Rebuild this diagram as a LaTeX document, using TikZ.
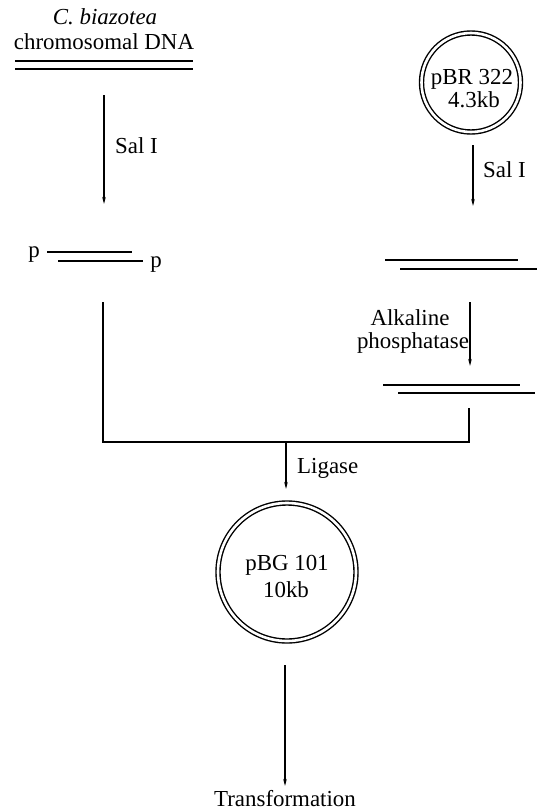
\documentclass[tikz,border=0pt]{standalone}
\usepackage{fontspec}
\setmainfont{Liberation Serif}
\usetikzlibrary{arrows.meta}
\begin{document}
\begin{tikzpicture}[x=1bp,y=-1bp,
  lbl/.style={font=\fontsize{23}{24}\selectfont, inner sep=0pt, anchor=base},
  strand/.style={line width=1.3bp},
  joinline/.style={line width=1.2bp},
  flow/.style={line width=1.2bp, -{Stealth[length=7bp,width=3.5bp]}},
  ring/.style={circle, draw, double, line width=1.4bp, double distance=2.6bp, inner sep=0pt}]
\useasboundingbox (0,0) rectangle (543,811);

% chromosomal DNA, top left
\node[lbl, font=\fontsize{23}{24}\selectfont\itshape] (cbiaz) at (105,25) {C. biazotea};
\node[lbl] (chrom) at (104,50) {chromosomal DNA};
\draw[strand] (15,61) coordinate (c1a) -- (193,61) coordinate (c1b);
\draw[strand] (15,69) coordinate (c2a) -- (193,69) coordinate (c2b);

% digestion of chromosomal DNA
\coordinate (salLtop) at (104,95);
\coordinate (salLbot) at (104,204);
\draw[flow] (salLtop) -- (salLbot);
\node[lbl, anchor=base west] (salL) at (115,153) {Sal I};

% chromosomal fragment with 5' phosphates
\node[lbl] (pL) at (34,257) {p};
\node[lbl] (pR) at (156,267) {p};
\draw[strand] (47,252) coordinate (f1a) -- (132,252) coordinate (f1b);
\draw[strand] (58,261) coordinate (f2a) -- (143,261) coordinate (f2b);

% plasmid pBR 322
\node[ring, minimum size=99bp] (pbr) at (471,82.5) {};
\node[lbl] (pbrA) at (472,84) {pBR 322};
\node[lbl] (pbrB) at (474,107) {4.3kb};

\coordinate (salRtop) at (473,145);
\coordinate (salRbot) at (473,206);
\draw[flow] (salRtop) -- (salRbot);
\node[lbl, anchor=base west] (salR) at (483,177) {Sal I};

% linearised vector
\draw[strand] (385,260) coordinate (v1a) -- (518,260) coordinate (v1b);
\draw[strand] (400,269) coordinate (v2a) -- (537,269) coordinate (v2b);

\coordinate (aptop) at (470,302);
\coordinate (apbot) at (470,366);
\draw[flow] (aptop) -- (apbot);
\node[lbl] (alk) at (410,325) {Alkaline};
\node[lbl] (phos) at (413,348) {phosphatase};

% dephosphorylated vector
\draw[strand] (383,385) coordinate (d1a) -- (520,385) coordinate (d1b);
\draw[strand] (398,393) coordinate (d2a) -- (535,393) coordinate (d2b);

% joining the two preparations
\coordinate (jL) at (103,302);
\coordinate (jR) at (469,408);
\coordinate (jLc) at (103,442);
\coordinate (jRc) at (469,442);
\coordinate (jM) at (286,442);
\draw[joinline] (jL) -- (jLc) -- (jRc) -- (jR);

\coordinate (ligbot) at (286,489);
\draw[flow] (jM) -- (ligbot);
\node[lbl, anchor=base west] (lig) at (297,473) {Ligase};

% recombinant plasmid pBG 101
\node[ring, minimum size=138bp] (pbg) at (287,572) {};
\node[lbl] (pbgA) at (287,570) {pBG 101};
\node[lbl] (pbgB) at (286,597) {10kb};

\coordinate (trtop) at (285,665);
\coordinate (trbot) at (285,786);
\draw[flow] (trtop) -- (trbot);
\node[lbl] (trans) at (285,806) {Transformation};
\end{tikzpicture}
\end{document}
